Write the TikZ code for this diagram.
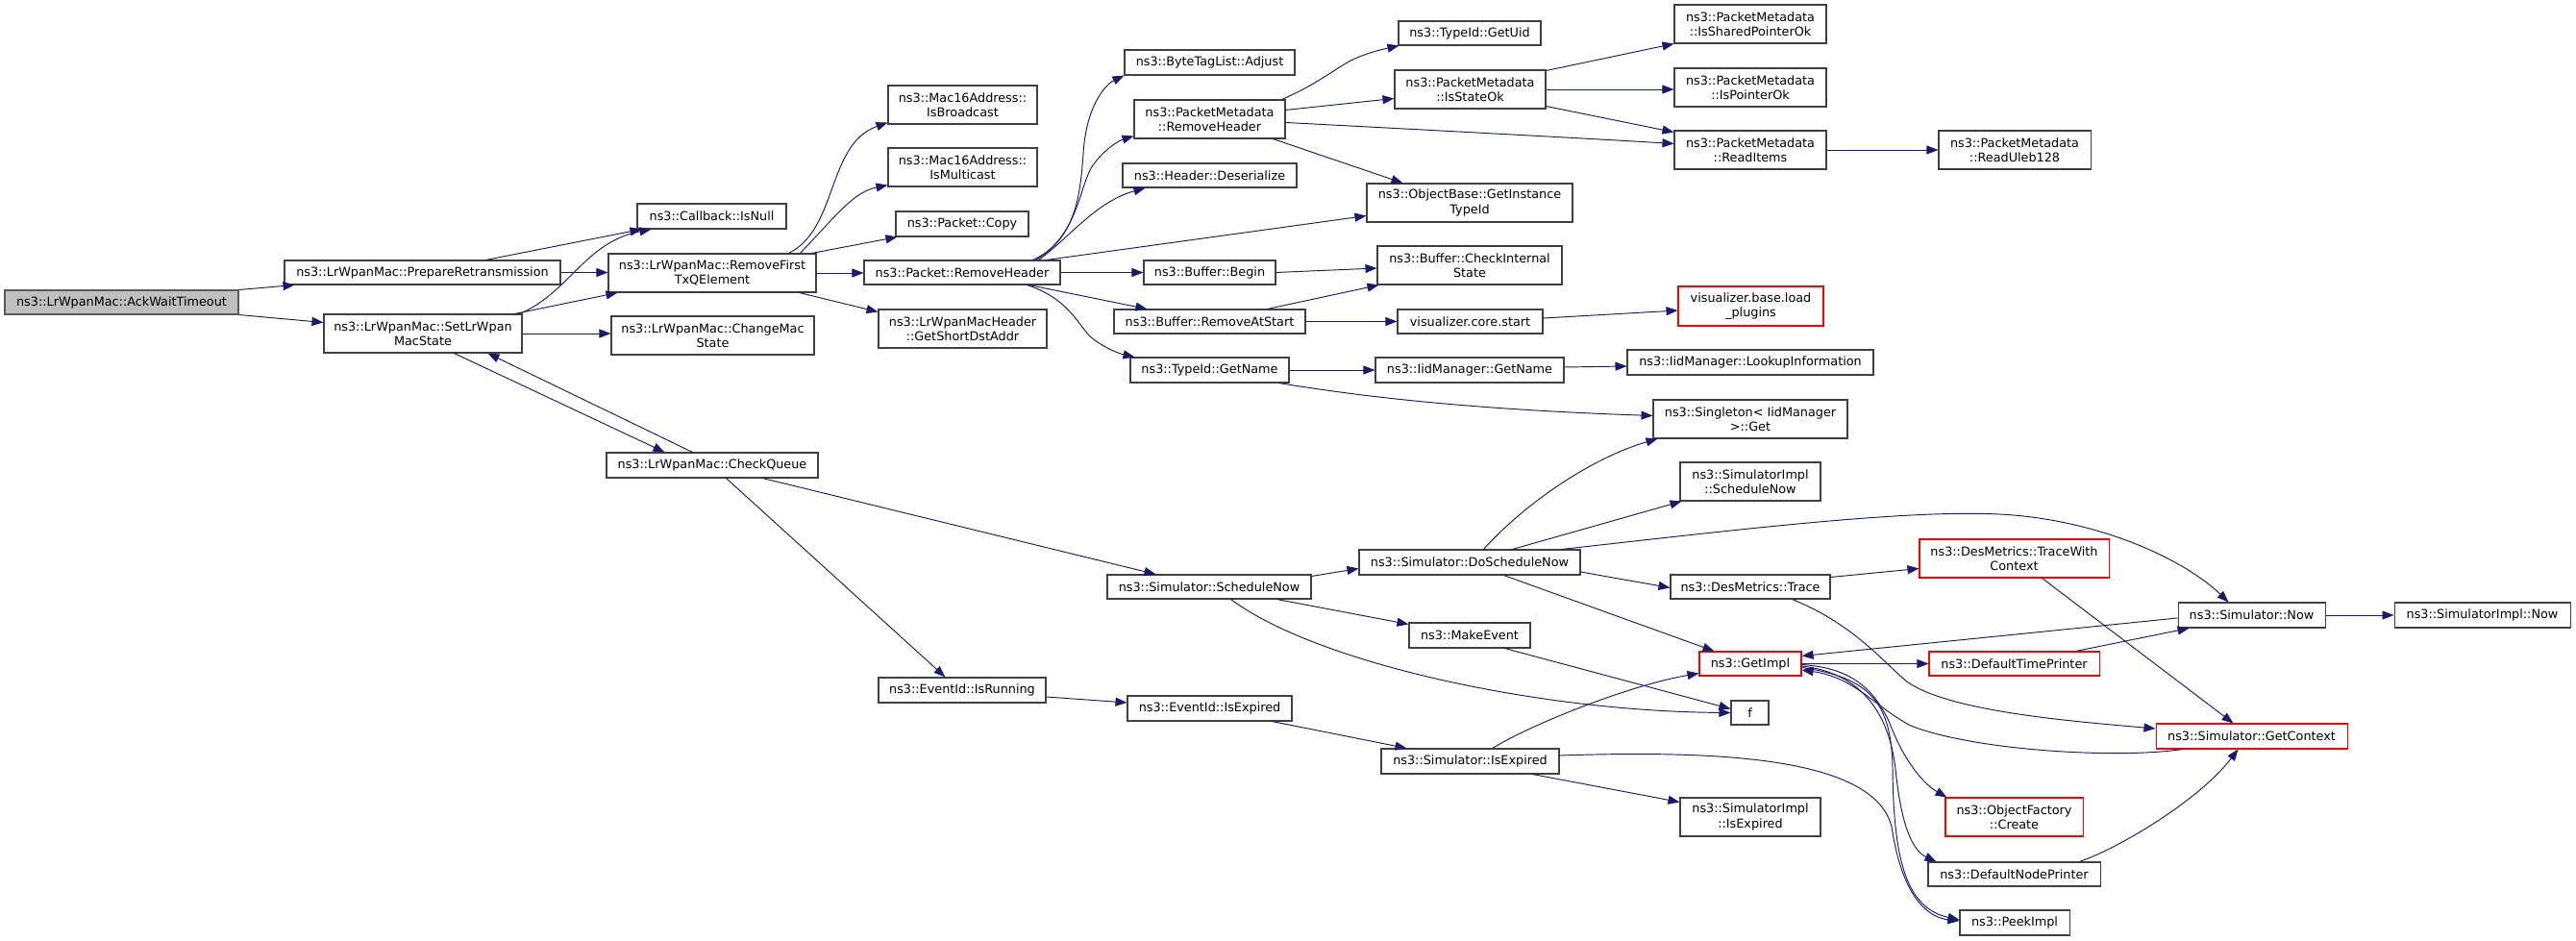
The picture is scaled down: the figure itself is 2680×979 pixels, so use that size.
\documentclass[tikz,border=0pt]{standalone}
\usepackage{fontspec}
\setmainfont{DejaVu Sans}
\usetikzlibrary{arrows.meta,calc}
\definecolor{edgec}{HTML}{191970}
\definecolor{bordc}{HTML}{404040}
\definecolor{rootf}{HTML}{BFBFBF}
\tikzset{
  box/.style={draw=bordc, line width=1.05pt, fill=white, inner sep=0pt, align=center,
    font=\fontsize{12.8pt}{15.3pt}\selectfont},
  redbox/.style={box, draw=red},
  rootbox/.style={box, fill=rootf, draw=black!65},
  sz/.style 2 args={minimum width=#1pt, minimum height=#2pt},
  call/.style={draw=edgec, line width=0.95pt, -{Triangle[length=12pt,width=9pt]}},
}
\begin{document}
\begin{tikzpicture}[x=1pt,y=-1pt]
\useasboundingbox[fill=white] (0,0) rectangle (2680,979);
% nodes
\node[rootbox, sz={243}{25}] (ack) at (126.5,314.5) {ns3::LrWpanMac::AckWaitTimeout};
\node[box, sz={287}{25}] (prep) at (439.5,283.5) {ns3::LrWpanMac::PrepareRetransmission};
\node[box, sz={206}{40}] (setlr) at (440,347) {ns3::LrWpanMac::SetLrWpan\\MacState};
\node[box, sz={155}{26}] (isnull) at (740.5,225) {ns3::Callback::IsNull};
\node[box, sz={216}{40}] (remfirst) at (741,284) {ns3::LrWpanMac::RemoveFirst\\TxQElement};
\node[box, sz={211}{40}] (changemac) at (741.5,349) {ns3::LrWpanMac::ChangeMac\\State};
\node[box, sz={220}{26}] (checkq) at (741,484) {ns3::LrWpanMac::CheckQueue};
\node[box, sz={155}{40}] (bcast) at (1001.5,109) {ns3::Mac16Address::\\IsBroadcast};
\node[box, sz={155}{40}] (mcast) at (1001.5,174) {ns3::Mac16Address::\\IsMulticast};
\node[box, sz={138}{26}] (copy) at (1001,233) {ns3::Packet::Copy};
\node[box, sz={204}{25}] (premhdr) at (1001,283.5) {ns3::Packet::RemoveHeader};
\node[box, sz={175}{40}] (shortdst) at (1001.5,342) {ns3::LrWpanMacHeader\\::GetShortDstAddr};
\node[box, sz={174}{26}] (isrunning) at (1001,718) {ns3::EventId::IsRunning};
\node[box, sz={177}{26}] (adjust) at (1258.5,65) {ns3::ByteTagList::Adjust};
\node[box, sz={157}{40}] (pmrem) at (1258.5,124) {ns3::PacketMetadata\\::RemoveHeader};
\node[box, sz={181}{25}] (deser) at (1258.5,182.5) {ns3::Header::Deserialize};
\node[box, sz={137}{25}] (begin) at (1258.5,283.5) {ns3::Buffer::Begin};
\node[box, sz={199}{25}] (remstart) at (1258.5,334.5) {ns3::Buffer::RemoveAtStart};
\node[box, sz={165}{26}] (tgetname) at (1258.5,385) {ns3::TypeId::GetName};
\node[box, sz={212}{25}] (schednow) at (1258,610.5) {ns3::Simulator::ScheduleNow};
\node[box, sz={171}{26}] (eidexp) at (1258.5,737) {ns3::EventId::IsExpired};
\node[box, sz={148}{25}] (getuid) at (1529,34.5) {ns3::TypeId::GetUid};
\node[box, sz={157}{40}] (isstate) at (1529.5,93) {ns3::PacketMetadata\\::IsStateOk};
\node[box, sz={214}{40}] (instid) at (1529,211) {ns3::ObjectBase::GetInstance\\TypeId};
\node[box, sz={192}{40}] (chkint) at (1529,276) {ns3::Buffer::CheckInternal\\State};
\node[box, sz={151}{25}] (vcore) at (1529.5,334.5) {visualizer.core.start};
\node[box, sz={196}{26}] (iidname) at (1529,385) {ns3::IidManager::GetName};
\node[box, sz={230}{26}] (doschd) at (1529,585) {ns3::Simulator::DoScheduleNow};
\node[box, sz={126}{26}] (makeev) at (1529,661) {ns3::MakeEvent};
\node[box, sz={185}{26}] (simexp) at (1529.5,792) {ns3::Simulator::IsExpired};
\node[box, sz={158}{40}] (shared) at (1821,25) {ns3::PacketMetadata\\::IsSharedPointerOk};
\node[box, sz={158}{40}] (ptrok) at (1821,91) {ns3::PacketMetadata\\::IsPointerOk};
\node[box, sz={158}{40}] (readitems) at (1821,156) {ns3::PacketMetadata\\::ReadItems};
\node[redbox, sz={151}{41}] (loadplug) at (1821.5,318.5) {visualizer.base.load\\\_plugins};
\node[box, sz={256}{26}] (lookup) at (1821,377) {ns3::IidManager::LookupInformation};
\node[box, sz={202}{40}] (singleton) at (1821,436) {ns3::Singleton< IidManager\\>::Get};
\node[box, sz={146}{40}] (implsched) at (1821,501) {ns3::SimulatorImpl\\::ScheduleNow};
\node[box, sz={166}{25}] (dtrace) at (1821,610.5) {ns3::DesMetrics::Trace};
\node[redbox, sz={106}{25}] (getimpl) at (1821,690.5) {ns3::GetImpl};
\node[box, sz={39}{25}] (f) at (1820.5,741.5) {f};
\node[box, sz={146}{40}] (implexp) at (1821,850) {ns3::SimulatorImpl\\::IsExpired};
\node[box, sz={158}{40}] (uleb) at (2096,156) {ns3::PacketMetadata\\::ReadUleb128};
\node[redbox, sz={197}{40}] (twctx) at (2095.5,581) {ns3::DesMetrics::TraceWith\\Context};
\node[redbox, sz={177}{25}] (dtp) at (2095.5,690.5) {ns3::DefaultTimePrinter};
\node[redbox, sz={143}{40}] (ofcreate) at (2095.5,850) {ns3::ObjectFactory\\::Create};
\node[box, sz={179}{25}] (dnp) at (2095.5,909.5) {ns3::DefaultNodePrinter};
\node[box, sz={114}{26}] (peek) at (2096,960) {ns3::PeekImpl};
\node[box, sz={153}{26}] (simnow) at (2342.5,640) {ns3::Simulator::Now};
\node[redbox, sz={199}{26}] (getctx) at (2342.5,766) {ns3::Simulator::GetContext};
\node[box, sz={183}{26}] (implnow) at (2582.5,640) {ns3::SimulatorImpl::Now};
% edges
\draw[call] (ack.north east) -- ($(prep.south west)+(11,0)$);
\draw[call] (ack.south east) -- ($(setlr.north west)+(0,9)$);
\draw[call] ($(prep.north west)+(210,0)$) -- ($(isnull.south west)+(5,0)$);
\draw[call] (prep.east) -- (prep.east -| remfirst.west);
\draw[call] ($(setlr.north east)+(-3,0)$) .. controls (592,305) and (608,252) .. ($(isnull.south west)+(15,0)$);
\draw[call] ($(setlr.north east)+(-8,0)$) -- ($(remfirst.south west)+(10,0)$);
\draw[call] (setlr.east) -- (setlr.east -| changemac.west);
\draw[call] ($(setlr.south west)+(136,0)$) -- ($(checkq.north west)+(61,0)$);
\draw[call] ($(checkq.north west)+(90,0)$) -- ($(setlr.south west)+(171,0)$);
\draw[call] ($(remfirst.north west)+(188,0)$) .. controls (872,238) and (860,150) .. ($(bcast.south west)+(0,-2)$);
\draw[call] ($(remfirst.north west)+(200,0)$) .. controls (872,222) and (888,200) .. ($(mcast.south west)+(0,-2)$);
\draw[call] ($(remfirst.north east)+(-5,0)$) -- ($(copy.south west)+(2,0)$);
\draw[call] (remfirst.east) -- (remfirst.east -| premhdr.west);
\draw[call] ($(remfirst.south east)+(-18,0)$) -- ($(shortdst.north west)+(0,3)$);
% Packet::RemoveHeader
\draw[call] ($(premhdr.north east)+(-29,0)$) .. controls (1120,250) and (1124,200) .. (1127,160) .. controls (1130,110) and (1150,88) .. (adjust.south west);
\draw[call] ($(premhdr.north east)+(-26,0)$) .. controls (1120,245) and (1122,200) .. (1135,175) .. controls (1148,155) and (1165,146) .. ($(pmrem.south west)+(0,-3)$);
\draw[call] ($(premhdr.north east)+(-23,0)$) .. controls (1115,245) and (1140,210) .. ($(deser.south west)+(24,0)$);
\draw[call] ($(premhdr.north east)+(-15,0)$) -- ($(instid.south west)+(0,-7)$);
\draw[call] (premhdr.east) -- (premhdr.east -| begin.west);
\draw[call] ($(premhdr.south east)+(-33,0)$) -- ($(remstart.north west)+(35,0)$);
\draw[call] ($(premhdr.south east)+(-35,0)$) .. controls (1110,310) and (1120,335) .. (1134,350) .. controls (1148,362) and (1165,368) .. ($(tgetname.north west)+(5,0)$);
% PacketMetadata::RemoveHeader
\draw[call] ($(pmrem.north east)+(-4,0)$) .. controls (1365,90) and (1385,75) .. (1400,66) .. controls (1415,57) and (1435,52) .. ($(getuid.south west)+(1,0)$);
\draw[call] ($(pmrem.north east)+(0,11)$) -- ($(isstate.north west)+(0,30)$);
\draw[call] ($(pmrem.north east)+(0,24)$) .. controls (1500,136) and (1650,144) .. ($(readitems.north west)+(0,14)$);
\draw[call] ($(pmrem.south east)+(-13,0)$) -- ($(instid.north west)+(38,0)$);
% IsStateOk
\draw[call] ($(isstate.north east)+(0,1)$) -- (shared.south west);
\draw[call] (isstate.east) -- (isstate.east -| ptrok.west);
\draw[call] ($(isstate.south east)+(0,-3)$) -- ($(readitems.north west)+(0,2)$);
\draw[call] (readitems.east) -- (readitems.east -| uleb.west);
% Buffer
\draw[call] (begin.east) -- ($(chkint.west)+(0,3)$);
\draw[call] ($(remstart.north east)+(-40,0)$) -- ($(chkint.south west)+(2,0)$);
\draw[call] (remstart.east) -- (remstart.east -| vcore.west);
\draw[call] ($(vcore.east)+(0,-3.5)$) -- ($(loadplug.west)+(0,4.5)$);
% TypeId::GetName
\draw[call] (tgetname.east) -- (tgetname.east -| iidname.west);
\draw[call] ($(iidname.east)+(0,-3)$) -- ($(lookup.west)+(0,4)$);
\draw[call] ($(tgetname.south east)+(-11,0)$) .. controls (1390,408) and (1500,425) .. ($(singleton.north west)+(0,17)$);
% CheckQueue
\draw[call] ($(checkq.south west)+(163,0)$) -- ($(schednow.north west)+(51,0)$);
\draw[call] ($(checkq.south west)+(125,0)$) -- ($(isrunning.north west)+(70,0)$);
\draw[call] ($(isrunning.east)+(0,7)$) -- ($(eidexp.west)+(0,-6)$);
\draw[call] ($(eidexp.south east)+(-21,0)$) -- ($(simexp.north west)+(27,0)$);
% Simulator::ScheduleNow
\draw[call] ($(schednow.north east)+(0,2)$) -- ($(doschd.south west)+(0,-7)$);
\draw[call] ($(schednow.south east)+(-36,0)$) -- ($(makeev.north west)+(0,2)$);
\draw[call] ($(schednow.south east)+(-84,0)$) .. controls (1370,690) and (1600,740) .. (f.west);
\draw[call] ($(makeev.south west)+(100,0)$) -- ($(f.west)+(0,-4)$);
% DoScheduleNow
\draw[call] ($(doschd.north west)+(130,0)$) .. controls (1590,520) and (1660,475) .. ($(singleton.south west)+(5,0)$);
\draw[call] ($(doschd.north west)+(160,0)$) -- ($(implsched.south west)+(2,0)$);
\draw[call] ($(doschd.north east)+(-20,0)$) .. controls (1800,552) and (1980,530) .. (2080,535) .. controls (2180,540) and (2270,580) .. ($(simnow.north west)+(53,0)$);
\draw[call] ($(doschd.east)+(0,10)$) -- ($(dtrace.west)+(0,1)$);
\draw[call] ($(doschd.south west)+(151,0)$) -- ($(getimpl.north west)+(16,0)$);
% Simulator::IsExpired
\draw[call] ($(simexp.north west)+(116,0)$) .. controls (1600,750) and (1700,712) .. ($(getimpl.south west)+(0,-3)$);
\draw[call] ($(simexp.south west)+(158,0)$) -- ($(implexp.north west)+(0,5)$);
\draw[call] ($(simexp.east)+(0,-6)$) .. controls (1800,780) and (1950,790) .. (1968,860) .. controls (1980,940) and (2010,955) .. ($(peek.west)+(0,-2)$);
% DesMetrics
\draw[call] ($(dtrace.north east)+(0,3)$) -- ($(twctx.south west)+(0,-10)$);
\draw[call] ($(dtrace.south east)+(-40,0)$) .. controls (1930,650) and (1960,690) .. (1985,710) .. controls (2030,740) and (2150,750) .. ($(getctx.west)+(0,-8)$);
\draw[call] ($(twctx.south west)+(128,0)$) -- ($(getctx.north west)+(81,0)$);
% GetImpl and friends
\draw[call] ($(simnow.west)+(0,3)$) -- ($(getimpl.north east)+(0,5)$);
\draw[call] (getimpl.east) -- (getimpl.east -| dtp.west);
\draw[call] ($(dtp.north east)+(-25,0)$) -- ($(simnow.south west)+(12,0)$);
\draw[call] (simnow.east) -- (simnow.east -| implnow.west);
\draw[call] ($(getctx.south west)+(28,0)$) .. controls (2200,790) and (2050,780) .. (1988,755) .. controls (1950,735) and (1930,705) .. ($(getimpl.east)+(0,6.5)$);
\draw[call] ($(getimpl.east)+(0,1)$) .. controls (1930,695) and (1950,720) .. (1965,750) .. controls (1980,790) and (2000,815) .. ($(ofcreate.north west)+(2,0)$);
\draw[call] ($(getimpl.east)+(0,2.5)$) .. controls (1935,700) and (1965,740) .. (1972,800) .. controls (1978,860) and (1990,885) .. ($(dnp.north west)+(9,0)$);
\draw[call] ($(getimpl.east)+(0,4)$) .. controls (1945,705) and (1968,730) .. (1969,800) .. controls (1970,900) and (1985,945) .. ($(peek.west)+(0,-3)$);
\draw[call] ($(dnp.north west)+(158,0)$) .. controls (2210,880) and (2290,830) .. ($(getctx.south west)+(86,0)$);
\end{tikzpicture}
\end{document}
